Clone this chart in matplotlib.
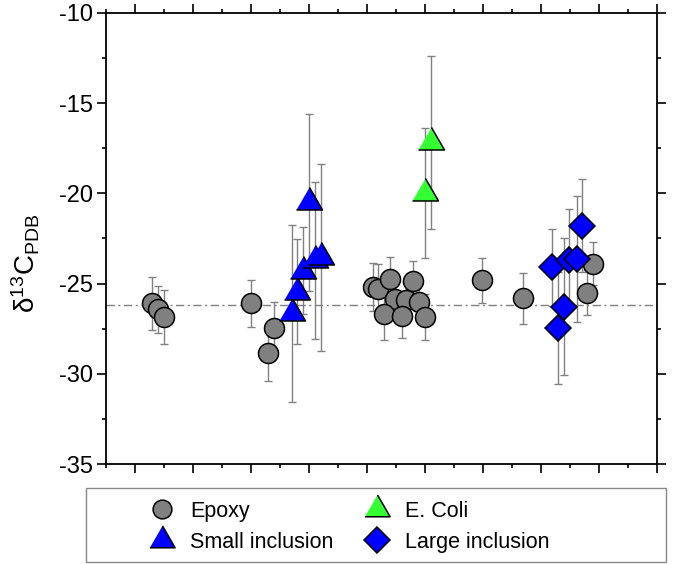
import matplotlib
matplotlib.use("Agg")
import matplotlib.pyplot as plt
from matplotlib.lines import Line2D
from matplotlib.patches import Rectangle
from matplotlib.ticker import MultipleLocator, NullFormatter

plt.rcParams["font.family"] = ["Liberation Sans", "DejaVu Sans"]
plt.rcParams["mathtext.fontset"] = "custom"
plt.rcParams["mathtext.rm"] = "Liberation Sans"
plt.rcParams["axes.unicode_minus"] = False

# epoxy reference points
epoxy_x = [1.59, 1.80, 1.99, 5.0, 5.8, 5.6, 9.2, 9.38, 9.79, 10.6, 9.97, 10.34, 10.79,
           9.59, 10.19, 11.0, 12.98, 14.39, 16.8, 16.6]
epoxy_y = [-26.1, -26.43, -26.83, -26.1, -27.44, -28.86, -25.17, -25.28, -24.74, -24.84,
           -25.85, -25.91, -26.04, -26.7, -26.78, -26.83, -24.82, -25.82, -23.9, -25.5]
epoxy_err = [1.45, 1.3, 1.5, 1.3, 1.4, 1.55, 1.33, 1.38, 1.24, 1.11, 1.0, 1.0, 1.0,
             1.43, 1.22, 1.27, 1.25, 1.4, 1.2, 1.25]

small_x = [6.40, 6.6, 6.8, 7.0, 7.2, 7.4]
small_y = [-26.65, -25.45, -24.28, -20.5, -23.7, -23.55]
small_err = [4.9, 2.9, 2.4, 4.9, 4.35, 5.2]

ecoli_x = [11.0, 11.2]
ecoli_y = [-20.0, -17.16]
ecoli_err = [3.6, 4.8]

large_x = [15.37, 15.79, 15.6, 15.98, 16.23, 16.4]
large_y = [-24.1, -26.28, -27.44, -23.69, -23.65, -21.79]
large_err = [2.15, 3.8, 3.1, 2.8, 3.5, 2.57]

BASELINE = -26.2
LABELS = ["Epoxy", "Small inclusion", "E. Coli", "Large inclusion"]

TRI = [(-1, -0.577), (1, -0.577), (0, 1.155)]
GREY = "#808080"


def draw_series(ax, x, y, err, marker, size, color):
    ax.errorbar(x, y, yerr=err, fmt="none", ecolor=GREY, elinewidth=1,
                capsize=2.9, capthick=1, zorder=2)
    ax.plot(x, y, linestyle="none", marker=marker, markersize=size,
            markerfacecolor=color, markeredgecolor="black", markeredgewidth=1.1,
            zorder=3)


fig = plt.figure(figsize=(6.77, 5.64), dpi=100)
ax = fig.add_axes([0.1566, 0.1773, 0.8139, 0.7997])

ax.axhline(BASELINE, color=GREY, linewidth=1, dashes=(6, 2.5, 1.5, 2.5), zorder=1)

draw_series(ax, epoxy_x, epoxy_y, epoxy_err, "o", 14.4, GREY)
draw_series(ax, small_x, small_y, small_err, TRI, 21.6, "#0000FF")
draw_series(ax, ecoli_x, ecoli_y, ecoli_err, TRI, 21.6, "#33FF33")
draw_series(ax, large_x, large_y, large_err, "D", 13.7, "#0000FF")

ax.set_xlim(0, 19)
ax.set_ylim(-35, -10)
ax.xaxis.set_major_locator(MultipleLocator(2, offset=1))
ax.xaxis.set_minor_locator(MultipleLocator(1))
ax.xaxis.set_major_formatter(NullFormatter())
ax.yaxis.set_major_locator(MultipleLocator(5))
ax.yaxis.set_minor_locator(MultipleLocator(2.5))
ax.tick_params(which="both", direction="out", top=True, right=True, width=1.2,
               labelsize=17)
ax.tick_params(which="major", length=6.5, pad=3)
ax.tick_params(which="minor", length=3.2)
for s in ax.spines.values():
    s.set_linewidth(1.3)

ax.set_ylabel(r"$\mathregular{\delta^{13}C_{PDB}}$", fontsize=20)
ax.yaxis.set_label_coords(-0.116, 0.446)

# legend box below the axes
fig.patches.append(Rectangle((86 / 677, 1 - 562 / 564), 580 / 677, 74 / 564,
                             transform=fig.transFigure, facecolor="white",
                             edgecolor="#888888", linewidth=1))
handles = [
    Line2D([], [], linestyle="none", marker="o", markersize=13.5,
           markerfacecolor=GREY, markeredgecolor="black", markeredgewidth=1.1),
    Line2D([], [], linestyle="none", marker=TRI, markersize=21,
           markerfacecolor="#0000FF", markeredgecolor="black", markeredgewidth=1.1),
    Line2D([], [], linestyle="none", marker=TRI, markersize=21,
           markerfacecolor="#33FF33", markeredgecolor="black", markeredgewidth=1.1),
    Line2D([], [], linestyle="none", marker="D", markersize=13,
           markerfacecolor="#0000FF", markeredgecolor="black", markeredgewidth=1.1),
]
fig.legend(handles, LABELS, ncol=2, loc="upper left",
           bbox_to_anchor=(151 / 677, 1 - 501 / 564), frameon=False,
           fontsize=15.5, handlelength=1.0, handletextpad=0.8,
           columnspacing=1.55, labelspacing=0.45, borderpad=0, borderaxespad=0)

fig.savefig("out.png", dpi=100)
